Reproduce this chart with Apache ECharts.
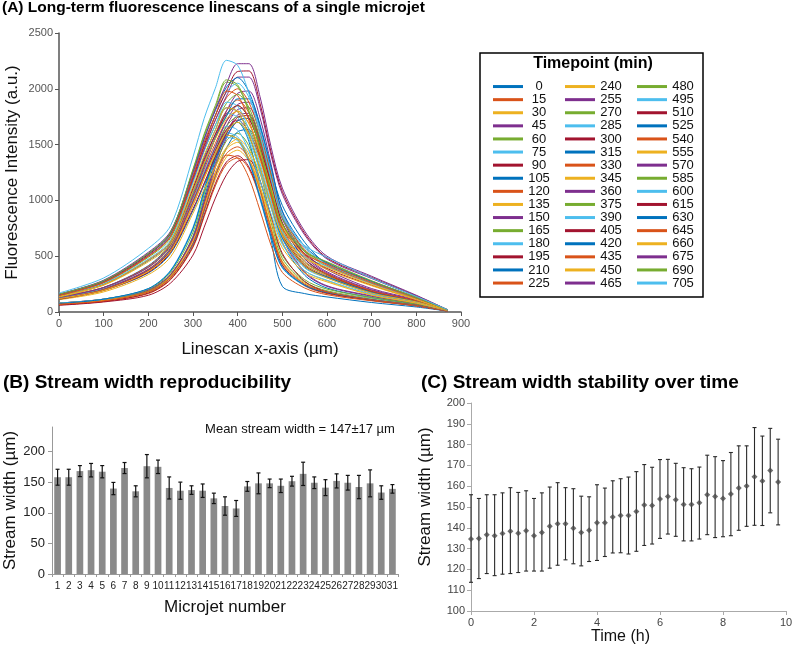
<!DOCTYPE html>
<html><head><meta charset="utf-8">
<script src="https://cdn.jsdelivr.net/npm/echarts@6/dist/echarts.min.js"></script>
<style>html,body{margin:0;padding:0;background:#fff}#c{width:798px;height:647px}</style>
</head><body><div id="c"></div>
<script>
// ---------- Panel A data ----------
const timepoints = ['0','15','30','45','60','75','90','105','120','135','150','165','180','195','210','225',
  '240','255','270','285','300','315','330','345','360','375','390','405','420','435','450','465',
  '480','495','510','525','540','555','570','585','600','615','630','645','660','675','690','705'];
const scanX = [0,100,200,250,300,325,350,375,400,425,450,475,500,550,600,700,800,870];
const scans = [
  [80,110,185,325,680,1020,1360,1615,1700,1530,1120,645,230,165,135,85,45,8],
  [65,95,165,290,580,855,1130,1325,1380,1285,1020,690,415,235,165,105,55,8],
  [65,100,175,305,610,900,1190,1390,1450,1350,1075,725,435,245,175,110,60,9],
  [80,115,195,335,650,965,1295,1560,1715,1735,1490,1085,665,350,230,140,75,10],
  [75,110,190,335,670,990,1310,1535,1600,1490,1185,800,480,270,190,120,65,10],
  [75,115,205,365,745,1075,1390,1565,1535,1345,1010,665,395,235,175,110,60,9],
  [65,95,170,295,590,870,1150,1345,1400,1300,1035,700,420,240,170,105,55,8],
  [75,105,180,315,610,910,1220,1470,1615,1635,1405,1025,625,330,215,130,70,10],
  [70,100,185,325,665,965,1250,1405,1380,1205,910,595,355,215,155,100,55,9],
  [70,105,180,320,640,940,1245,1460,1520,1415,1125,760,455,260,180,115,60,9],
  [80,115,200,340,665,990,1330,1600,1765,1780,1530,1115,685,360,235,145,75,11],
  [80,115,205,355,715,1055,1395,1630,1700,1580,1260,850,510,290,205,130,70,10],
  [80,115,210,375,760,1100,1425,1605,1570,1375,1035,680,405,245,180,115,60,10],
  [60,90,150,260,510,760,1020,1230,1350,1365,1175,855,525,275,180,110,60,8],
  [75,115,210,370,750,1090,1410,1585,1550,1360,1025,670,400,240,175,110,60,10],
  [70,100,180,310,620,920,1215,1420,1480,1375,1095,740,445,250,180,110,60,9],
  [110,180,335,495,885,1100,1300,1475,1550,1455,1240,930,620,370,280,155,80,14],
  [120,205,370,555,960,1205,1445,1665,1815,1830,1610,1220,835,500,350,195,100,17],
  [125,200,375,560,1000,1245,1470,1665,1750,1645,1400,1050,700,420,315,175,90,16],
  [120,200,380,565,1010,1260,1480,1665,1630,1445,1175,875,605,370,285,160,85,15],
  [120,200,370,550,980,1220,1445,1635,1720,1615,1375,1030,690,415,310,170,90,15],
  [115,195,350,525,910,1140,1365,1575,1715,1735,1525,1155,790,475,335,185,95,16],
  [125,205,385,575,1025,1280,1510,1710,1800,1690,1440,1080,720,430,325,180,95,16],
  [115,190,360,535,960,1200,1410,1585,1550,1375,1120,830,575,350,270,150,80,14],
  [125,210,380,570,990,1235,1480,1710,1860,1880,1655,1255,855,515,360,200,105,17],
  [130,215,400,590,1055,1315,1555,1760,1850,1740,1480,1110,740,445,335,185,95,17],
  [130,215,405,605,1080,1350,1585,1780,1745,1550,1260,935,650,395,305,170,90,16],
  [115,195,355,535,925,1155,1390,1600,1745,1760,1550,1175,800,480,340,185,100,16],
  [135,220,415,620,1110,1390,1630,1830,1795,1590,1295,960,665,405,315,175,95,17],
  [135,220,410,610,1085,1350,1595,1805,1900,1785,1520,1140,760,455,340,190,100,17],
  [120,195,365,545,970,1205,1430,1615,1700,1600,1360,1020,680,410,305,170,90,15],
  [130,220,400,600,1040,1300,1560,1800,1960,1980,1740,1320,900,540,380,210,110,18],
  [145,260,490,665,1170,1445,1675,1870,1950,1835,1560,1210,840,545,410,255,120,18],
  [145,255,475,645,1160,1445,1670,1880,1845,1635,1330,990,715,495,410,255,120,17],
  [140,245,465,630,1110,1370,1590,1775,1850,1740,1480,1145,795,520,390,240,115,17],
  [135,245,460,625,1075,1325,1560,1755,1910,1910,1660,1270,955,625,430,275,125,18],
  [150,265,500,680,1200,1480,1720,1920,2000,1880,1600,1240,860,560,420,260,125,18],
  [140,245,465,630,1130,1405,1630,1830,1795,1590,1295,960,695,480,400,245,115,17],
  [150,270,505,690,1185,1460,1720,1935,2105,2105,1830,1400,1055,690,475,300,140,19],
  [155,275,520,705,1270,1580,1830,2060,2020,1790,1455,1080,780,540,445,275,130,19],
  [155,275,515,695,1230,1515,1765,1970,2050,1925,1640,1270,880,575,430,265,125,18],
  [155,275,515,705,1210,1495,1760,1980,2155,2160,1870,1430,1080,705,485,310,145,20],
  [160,280,525,715,1260,1555,1805,2015,2100,1975,1680,1300,905,590,440,275,130,19],
  [150,265,500,680,1220,1520,1760,1980,1940,1720,1400,1040,750,520,430,265,125,18],
  [135,240,450,610,1080,1330,1550,1730,1800,1690,1440,1115,775,505,380,235,110,16],
  [160,285,535,725,1250,1545,1815,2045,2225,2225,1930,1475,1110,725,500,320,150,20],
  [160,280,525,715,1280,1595,1850,2080,2035,1805,1470,1090,790,545,450,280,130,19],
  [170,305,570,775,1390,1735,2005,2255,2210,1960,1595,1185,855,595,490,305,140,21]
];
const palette = ['#0072BD','#D95319','#EDB120','#7E2F8E','#77AC30','#4DBEEE','#A2142F'];

// ---------- Panel B data ----------
const microjets = ['1','2','3','4','5','6','7','8','9','10','11','12','13','14','15','16','17','18','19','20','21','22','23','24','25','26','27','28','29','30','31'];
const widths = [158,158,168,169.5,167,139.5,173,135,176,175,140.5,136,137,136,123.5,111,107,143,148,148,144,151.5,163.5,149,141,152,149,142,148,133,139];
const widthErr = [13,13,9,11,10,10,9,9,19,11,18,14,7,11,8.5,15,13,8,17,7,11,8,19,9.5,13,11.5,12,19,22,11,7];

// ---------- Panel C data ----------
const hours = [0,0.25,0.5,0.75,1,1.25,1.5,1.75,2,2.25,2.5,2.75,3,3.25,3.5,3.75,4,4.25,4.5,4.75,5,5.25,5.5,5.75,6,6.25,6.5,6.75,7,7.25,7.5,7.75,8,8.25,8.5,8.75,9,9.25,9.5,9.75];
const meanWidth = [134.6,134.9,136.7,136.2,137.2,138.3,137.4,138.6,136.2,137.8,140.7,141.9,141.9,139.8,137.8,138.8,142.4,142.4,145.2,145.9,145.9,147.8,151.0,150.7,153.9,155.1,153.5,151.2,151.2,152.0,155.9,155.1,154.1,156.2,159.1,160.1,164.6,162.5,167.5,162.0];
const upperWidth = [155.9,154.1,155.9,155.9,156.8,159.3,157.0,157.8,154.1,156.8,159.6,161.7,159.3,158.8,155.2,154.9,160.7,159.1,162.6,163.6,164.4,167.0,170.4,169.1,172.8,172.9,171.0,168.9,168.4,169.2,174.9,174.2,172.3,176.2,179.4,179.4,188.2,184.1,187.8,182.6];
const lowerWidth = [113.8,115.6,118.0,117.0,117.7,118.0,118.5,119.2,119.2,119.2,120.6,122.0,124.6,122.7,121.7,123.8,124.3,126.2,127.9,128.0,127.4,128.7,131.5,132.2,134.9,137.0,135.9,133.7,133.7,134.6,136.7,135.3,135.7,136.2,138.8,140.7,141.2,141.1,147.2,141.4];

const FONT = 'Liberation Sans, Arial, Helvetica, sans-serif';
const chart = echarts.init(document.getElementById('c'), null, {renderer:'canvas'});
const plain = v => String(v);

function errorBar(color, cap, width){
  return function(params, api){
    const x = api.value(0);
    const lo = api.coord([x, api.value(1)]);
    const hi = api.coord([x, api.value(2)]);
    const st = {stroke: color, lineWidth: width};
    return {type:'group', children:[
      {type:'line', shape:{x1:lo[0],y1:lo[1],x2:hi[0],y2:hi[1]}, style:st},
      {type:'line', shape:{x1:hi[0]-cap,y1:hi[1],x2:hi[0]+cap,y2:hi[1]}, style:st},
      {type:'line', shape:{x1:lo[0]-cap,y1:lo[1],x2:lo[0]+cap,y2:lo[1]}, style:st}
    ]};
  };
}

const series = scans.map((row, i) => ({
  type:'line', name: timepoints[i], xAxisIndex:0, yAxisIndex:0,
  data: row.map((v, j) => [scanX[j], v]),
  showSymbol:false, symbol:'none', smooth:0.3,
  lineStyle:{width:1, color: palette[i % 7]}, itemStyle:{color: palette[i % 7]},
  emphasis:{disabled:true}
}));
series.push({
  type:'bar', xAxisIndex:1, yAxisIndex:1, data: widths, barWidth:'60%',
  itemStyle:{color:'#8a8a8a'}, emphasis:{disabled:true}
});
series.push({
  type:'custom', xAxisIndex:1, yAxisIndex:1,
  data: widths.map((w, i) => [i, w - widthErr[i], w + widthErr[i]]),
  renderItem: errorBar('#111', 2, 1.2), z:5
});
series.push({
  type:'custom', xAxisIndex:2, yAxisIndex:2,
  data: hours.map((h, i) => [h, lowerWidth[i], upperWidth[i]]),
  renderItem: errorBar('#2a2a2a', 2, 1.1), z:3
});
series.push({
  type:'scatter', xAxisIndex:2, yAxisIndex:2,
  data: hours.map((h, i) => [h, meanWidth[i]]),
  symbol:'diamond', symbolSize:6, itemStyle:{color:'#4a4a4a'}, z:6,
  emphasis:{disabled:true}
});

const axisNameStyle = {fontFamily:FONT, fontSize:17, color:'#111'};

chart.setOption({
  animation:false,
  backgroundColor:'#fff',
  textStyle:{fontFamily:FONT},
  title:[
    {text:'(A) Long-term fluorescence linescans of a single microjet', left:2, top:0, padding:0,
     textStyle:{fontFamily:FONT, fontSize:15.5, fontWeight:'bold', color:'#000'}},
    {text:'(B) Stream width reproducibility', left:3, top:373, padding:0,
     textStyle:{fontFamily:FONT, fontSize:19, fontWeight:'bold', color:'#000'}},
    {text:'(C) Stream width stability over time', left:421, top:373, padding:0,
     textStyle:{fontFamily:FONT, fontSize:19, fontWeight:'bold', color:'#000'}}
  ],
  legend:{
    data: timepoints, orient:'vertical', left:493, top:80, height:211,
    itemGap:0, itemWidth:30, itemHeight:3, icon:'rect', selectedMode:false,
    padding:0,
    formatter: name => '{n|' + name + '}{g|}',
    textStyle:{fontFamily:FONT, fontSize:13, color:'#111', lineHeight:13.1,
      rich:{n:{width:22, align:'right', fontSize:13, lineHeight:13.1, fontFamily:FONT, color:'#111'},
            g:{width:15, lineHeight:13.1}}}
  },
  graphic:[
    {type:'rect', shape:{x:480, y:53, width:223, height:244}, style:{fill:'none', stroke:'#000', lineWidth:1.5}, z:0},
    {type:'text', x:593, y:64, style:{text:'Timepoint (min)', font:'bold 16px ' + FONT, fill:'#000', textAlign:'center', textVerticalAlign:'middle'}},
    {type:'text', x:300, y:429, style:{text:'Mean stream width = 147±17 µm', font:'13px ' + FONT, fill:'#111', textAlign:'center', textVerticalAlign:'middle'}}
  ],
  grid:[
    {left:59, top:33, width:402, height:279, outerBoundsMode:'none', containLabel:false},
    {left:52, top:427, width:346, height:147, outerBoundsMode:'none', containLabel:false},
    {left:471, top:403, width:315, height:208, outerBoundsMode:'none', containLabel:false}
  ],
  xAxis:[
    {type:'value', gridIndex:0, min:0, max:900, interval:100,
     name:'Linescan x-axis (µm)', nameLocation:'middle', nameGap:29, nameMoveOverlap:false, nameTextStyle:axisNameStyle,
     axisLine:{lineStyle:{color:'#555', width:1.5}}, axisTick:{show:true, length:4, lineStyle:{color:'#555'}},
     axisLabel:{color:'#555', fontSize:11, margin:6, fontFamily:FONT, formatter:plain}, splitLine:{show:false}},
    {type:'category', gridIndex:1, data: microjets,
     name:'Microjet number', nameLocation:'middle', nameGap:25, nameMoveOverlap:false, nameTextStyle:axisNameStyle,
     axisLine:{lineStyle:{color:'#999', width:1}}, axisTick:{show:true, length:3, lineStyle:{color:'#999'}},
     axisLabel:{color:'#222', fontSize:10, margin:7, interval:0, fontFamily:FONT}, splitLine:{show:false}},
    {type:'value', gridIndex:2, min:0, max:10, interval:2,
     name:'Time (h)', nameLocation:'middle', nameGap:18, nameMoveOverlap:false, nameTextStyle:{fontFamily:FONT, fontSize:16, color:'#111', padding:[0,16,0,0]},
     axisLine:{lineStyle:{color:'#aaa', width:1}}, axisTick:{show:true, length:4, lineStyle:{color:'#aaa'}},
     axisLabel:{color:'#444', fontSize:11, margin:6, fontFamily:FONT, formatter:plain}, splitLine:{show:false}}
  ],
  yAxis:[
    {type:'value', gridIndex:0, min:0, max:2500, interval:500,
     name:'Fluorescence Intensity (a.u.)', nameLocation:'middle', nameGap:38, nameMoveOverlap:false, nameTextStyle:axisNameStyle,
     axisLine:{show:true, lineStyle:{color:'#555', width:1.5}}, axisTick:{show:true, length:4, lineStyle:{color:'#555'}},
     axisLabel:{color:'#555', fontSize:11, margin:6, fontFamily:FONT, formatter:plain}, splitLine:{show:false}},
    {type:'value', gridIndex:1, min:0, max:240, interval:50,
     name:'Stream width (µm)', nameLocation:'middle', nameGap:33, nameMoveOverlap:false, nameTextStyle:axisNameStyle,
     axisLine:{show:true, lineStyle:{color:'#999', width:1}}, axisTick:{show:true, length:4, lineStyle:{color:'#999'}},
     axisLabel:{color:'#222', fontSize:13, margin:7, showMaxLabel:false, fontFamily:FONT, formatter:plain}, splitLine:{show:false}},
    {type:'value', gridIndex:2, min:100, max:200, interval:10,
     name:'Stream width (µm)', nameLocation:'middle', nameGap:37, nameMoveOverlap:false, nameTextStyle:Object.assign({}, axisNameStyle, {padding:[0,0,0,20]}),
     axisLine:{show:true, lineStyle:{color:'#aaa', width:1}}, axisTick:{show:true, length:4, lineStyle:{color:'#aaa'}},
     axisLabel:{color:'#444', fontSize:11, margin:6, fontFamily:FONT, formatter:plain}, splitLine:{show:false}}
  ],
  series: series
});
</script></body></html>
